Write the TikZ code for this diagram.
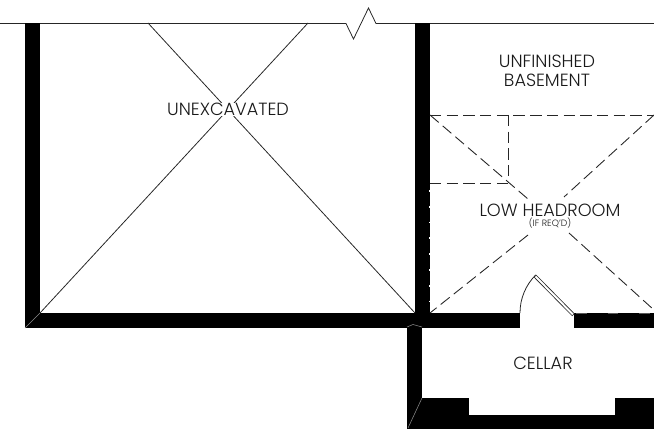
\documentclass[tikz,border=0pt]{standalone}
\usepackage{fontspec}
\setmainfont{Poppins Light}
\usetikzlibrary{positioning}
\begin{document}
\begin{tikzpicture}[
    x=.02cm, y=-.02cm,
    wall/.style={fill=black, draw=none},
    miter line/.style={draw=white!55!black, line width=.3pt},
    important line/.style={line width=.45pt, black!85},
    dashed line/.style={line width=.5pt, black!85, dash pattern=on 6.5pt off 3pt},
    wall dash/.style={white!35!black, line width=.25pt, dash pattern=on 6pt off 12pt},
    label/.style={font=\fontsize{10.05}{12}\selectfont, text=black!90, align=center, inner sep=0pt},
    small label/.style={font=\fontsize{5.2}{6}\selectfont, text=black!90, inner sep=0pt}
    ]
    \useasboundingbox (0,0) rectangle (654,429);

    % Top line
    \draw[important line] (0,23.5) -- (346,23.5) -- (353.5,39) -- (368.5,8) -- (376,23.5) -- (654,23.5);

    % Walls
    \fill[wall] (25,23) rectangle (40,328);
    \fill[wall] (25,313) rectangle (520,328);
    \fill[wall] (415,23) rectangle (430,313);
    \fill[wall] (574,313) rectangle (654,328);
    \fill[wall] (407,325) rectangle (422,429);
    \fill[wall] (422,398) rectangle (469,429);
    \fill[wall] (469,415) rectangle (615,429);
    \fill[wall] (615,398) rectangle (654,429);

    % Wall joints
    \draw[miter line] (25,328) -- (40,313);
    \draw[miter line] (408,428) -- (422,398);
    \draw[miter line] (407,327) -- (413,324.5) -- (422,327);

    % Crossed area
    \draw[important line] (148,23) -- (415,313);
    \draw[important line] (308,23) -- (40,313);

    % Low headroom
    \draw[dashed line] (430,115) -- (654,115);
    \draw[dashed line] (508,115) -- (508,183);
    \draw[dashed line] (430,183) -- (508,183);
    \draw[dashed line] (430,115) -- (528,199);
    \draw[dashed line] (654,115) -- (564,197);
    \draw[dashed line] (528,235) -- (430,313);
    \draw[dashed line] (569,233) -- (654,310);
    \draw[white, line width=.6pt, dash pattern=on 1pt off 8pt] (429.6,190) -- (429.6,313);
    \draw[wall dash] (576,313.3) -- (654,313.3);

    % Door
    \draw[important line] (520,313) arc (180:225:54);
    \draw[black!85, line width=2pt] (535,276) -- (573.5,315);
    \draw[white, line width=1.1pt] (535.5,276.5) -- (573,314.5);

    % Labels
    \node[label, fill=white] (unexcavated) at (228,109.5) {UNEXCAVATED};
    \node[label] (basement) at (547,71) {UNFINISHED\\[-1.5pt]BASEMENT};
    \node[label] (headroom) at (550,210) {LOW HEADROOM};
    \node[small label, below=.4pt of headroom] (req) {(IF REQ'D)};
    \node[label] (cellar) at (543,363) {CELLAR};
\end{tikzpicture}
\end{document}
